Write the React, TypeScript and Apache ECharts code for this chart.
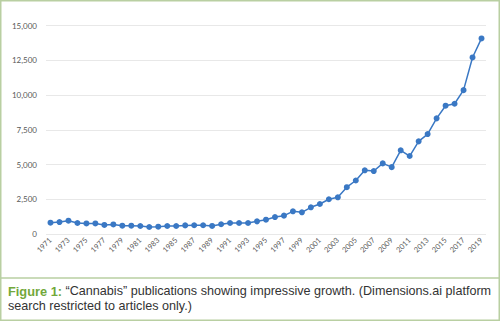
import React, { useEffect, useRef } from "react";
import * as echarts from "echarts";

const years: string[] = [];
for (let y = 1971; y <= 2019; y++) years.push(String(y));

const publications = [
  812, 860, 956, 790, 760, 760, 650, 690, 600, 600,
  575, 503, 527, 575, 575, 620, 630, 630, 580, 700,
  790, 790, 790, 910, 1030, 1220, 1320, 1630, 1560, 1920,
  2160, 2500, 2640, 3370, 3850, 4580, 4530, 5080, 4810, 6020,
  5610, 6665, 7190, 8320, 9230, 9370, 10350, 12700, 14070,
];

const yTicks = { min: 0, max: 15000, interval: 2500 };

const captionBold = "Figure 1:";
const captionLine1 = " \u201CCannabis\u201D publications showing impressive growth. (Dimensions.ai platform";
const captionLine2 = "search restricted to articles only.)";

export default function App() {
  const ref = useRef<HTMLDivElement>(null);
  useEffect(() => {
    if (!ref.current) return;
    const chart = echarts.init(ref.current, undefined, { renderer: "svg" });
    chart.setOption({
      animation: false,
      backgroundColor: "#ffffff",
      grid: { left: 46, right: 14, top: 25.5, height: 208.5, containLabel: false },
      xAxis: {
        type: "category",
        data: years,
        boundaryGap: true,
        axisLine: { show: false },
        axisTick: { show: false },
        axisLabel: {
          interval: 1,
          rotate: 45,
          fontSize: 7.5,
          color: "#595959",
          fontFamily: "Lato",
          margin: 5,
        },
      },
      yAxis: {
        type: "value",
        min: yTicks.min,
        max: yTicks.max,
        interval: yTicks.interval,
        axisLine: { show: false },
        axisTick: { show: false },
        splitLine: { lineStyle: { color: "#e8e8e8", width: 1 } },
        axisLabel: {
          fontSize: 8,
          color: "#595959",
          fontFamily: "Lato",
          margin: 9,
          formatter: (v: number) => v.toLocaleString("en-US"),
        },
      },
      series: [
        {
          type: "line",
          data: publications,
          symbol: "circle",
          symbolSize: 6,
          showSymbol: true,
          showAllSymbol: true,
          itemStyle: { color: "#3a78c4" },
          lineStyle: { color: "#3a78c4", width: 1.5 },
        },
      ],
      graphic: [
        {
          type: "rect",
          shape: { x: 0.75, y: 0.75, width: 498.5, height: 319.5 },
          style: { fill: "none", stroke: "#b9cfa2", lineWidth: 1.5 },
          silent: true,
        },
        {
          type: "line",
          shape: { x1: 0, y1: 278, x2: 500, y2: 278 },
          style: { stroke: "#b9cfa2", lineWidth: 1.5 },
          silent: true,
        },
        {
          type: "text",
          x: 8,
          y: 283.8,
          style: {
            text: "{b|" + captionBold + "}{n|" + captionLine1 + "}",
            rich: {
              b: { fontFamily: "Liberation Sans", fontSize: 12.8, fontWeight: "bold", fill: "#72a83a", lineHeight: 14.6 },
              n: { fontFamily: "Liberation Sans", fontSize: 12.6, fill: "#333333", lineHeight: 14.6 },
            },
          },
        },
        {
          type: "text",
          x: 8,
          y: 298.5,
          style: {
            text: captionLine2,
            fontFamily: "Liberation Sans",
            fontSize: 12.6,
            fill: "#333333",
            lineHeight: 14.6,
          },
        },
      ],
    });
    return () => chart.dispose();
  }, []);
  return (
    <div
      ref={ref}
      style={{ position: "fixed", left: 0, top: 0, width: 500, height: 321 }}
    />
  );
}
